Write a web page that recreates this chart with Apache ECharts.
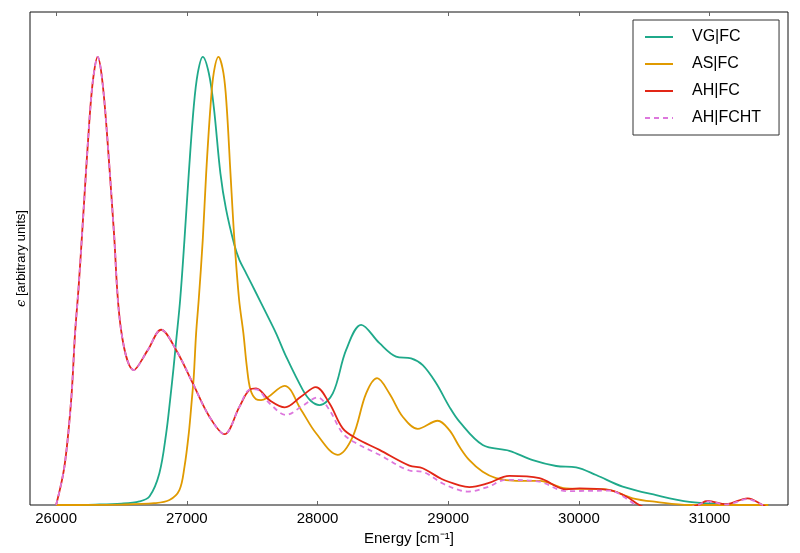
<!DOCTYPE html>
<html>
<head>
<meta charset="utf-8">
<script src="https://cdn.jsdelivr.net/npm/echarts@6/dist/echarts.min.js"></script>
<style>
html,body{margin:0;padding:0;background:#fff;}
#chart{width:800px;height:553px;}
</style>
</head>
<body>
<div id="chart"></div>
<script>
// ---- data ----
const xTicks = [26000, 27000, 28000, 29000, 30000, 31000];
const seriesNames = ['VG|FC', 'AS|FC', 'AH|FC', 'AH|FCHT'];

const vgE = [26000, 26300, 26500, 26637, 26714, 26790, 26842, 26872, 26898, 26918, 26949, 26982, 27015, 27053, 27084, 27122, 27168, 27206, 27257, 27300, 27364, 27402, 27454, 27530, 27607, 27683, 27760, 27887, 27950, 28015, 28117, 28219, 28334, 28474, 28601, 28716, 28805, 28907, 29009, 29086, 29264, 29468, 29647, 29826, 29979, 30132, 30335, 30591, 30846, 31100, 31330, 31450];
const vgV = [0, 0.001, 0.003, 0.008, 0.019, 0.071, 0.16, 0.234, 0.305, 0.365, 0.458, 0.592, 0.74, 0.889, 0.964, 1.0, 0.964, 0.889, 0.74, 0.66, 0.58, 0.547, 0.517, 0.473, 0.428, 0.383, 0.331, 0.257, 0.232, 0.223, 0.249, 0.346, 0.402, 0.361, 0.331, 0.327, 0.312, 0.272, 0.219, 0.186, 0.134, 0.121, 0.10, 0.087, 0.084, 0.067, 0.041, 0.022, 0.007, 0.002, 0, 0];

const asE = [26000, 26500, 26750, 26867, 26943, 26982, 27015, 27038, 27053, 27071, 27091, 27122, 27148, 27181, 27206, 27242, 27280, 27305, 27334, 27364, 27400, 27433, 27459, 27487, 27530, 27568, 27747, 27875, 27989, 28154, 28269, 28372, 28456, 28550, 28652, 28767, 28920, 29009, 29086, 29162, 29264, 29366, 29520, 29698, 29902, 30208, 30412, 30591, 30846, 31100, 31450];
const asV = [0, 0.001, 0.004, 0.011, 0.033, 0.085, 0.16, 0.234, 0.286, 0.383, 0.458, 0.592, 0.74, 0.889, 0.964, 1.0, 0.964, 0.889, 0.74, 0.592, 0.458, 0.383, 0.309, 0.257, 0.236, 0.234, 0.266, 0.212, 0.16, 0.112, 0.152, 0.249, 0.283, 0.249, 0.197, 0.170, 0.188, 0.167, 0.130, 0.10, 0.074, 0.060, 0.054, 0.054, 0.037, 0.035, 0.015, 0.007, 0, 0, 0];

const ahE = [26000, 26063, 26115, 26145, 26173, 26204, 26255, 26285, 26318, 26350, 26387, 26441, 26497, 26594, 26700, 26803, 26918, 27045, 27173, 27288, 27402, 27479, 27530, 27632, 27750, 27875, 27987, 28091, 28193, 28295, 28474, 28703, 28805, 28950, 29086, 29162, 29300, 29468, 29698, 29902, 30005, 30235, 30362, 30463, 30600, 30800, 30909, 30985, 31126, 31291, 31406, 31450];
const ahV = [0, 0.085, 0.234, 0.384, 0.49, 0.63, 0.86, 0.955, 1.0, 0.955, 0.837, 0.614, 0.39, 0.301, 0.345, 0.391, 0.346, 0.272, 0.197, 0.158, 0.219, 0.257, 0.260, 0.234, 0.218, 0.242, 0.263, 0.227, 0.171, 0.149, 0.123, 0.088, 0.082, 0.058, 0.044, 0.040, 0.048, 0.065, 0.060, 0.035, 0.037, 0.033, 0.019, 0.0, -0.015, -0.01, 0.0, 0.009, 0.002, 0.015, 0.0, -0.008];

const ahtE = [26000, 26063, 26115, 26145, 26173, 26204, 26255, 26285, 26318, 26350, 26387, 26441, 26497, 26594, 26700, 26803, 26918, 27045, 27173, 27288, 27402, 27479, 27530, 27632, 27760, 27875, 28002, 28091, 28193, 28295, 28474, 28703, 28805, 28958, 29086, 29149, 29300, 29443, 29698, 29902, 30235, 30400, 30480, 30700, 30909, 30985, 31126, 31291, 31406, 31450];
const ahtV = [0, 0.085, 0.234, 0.384, 0.49, 0.63, 0.86, 0.955, 1.0, 0.955, 0.837, 0.614, 0.39, 0.301, 0.345, 0.391, 0.346, 0.272, 0.197, 0.158, 0.219, 0.257, 0.258, 0.227, 0.201, 0.219, 0.240, 0.212, 0.160, 0.138, 0.112, 0.077, 0.074, 0.048, 0.033, 0.030, 0.040, 0.056, 0.052, 0.031, 0.032, 0.007, -0.01, -0.015, 0.0, 0.008, 0.001, 0.013, 0.0, -0.008];

// ---- chart ----
const pairs = (xs, ys) => xs.map((x, i) => [x, ys[i]]);
const FONT = '"Liberation Sans", Arial, sans-serif';
const colors = ['#1fa98a', '#e09a00', '#e22616', '#dd77dd'];
const solidIcon = 'path://M0,0H28V2H0Z';
const dashIcon = 'path://M0,0H5V2H0Z M9,0H14V2H9Z M18,0H23V2H18Z M27,0H28V2H27Z';

const chart = echarts.init(document.getElementById('chart'), null, {renderer: 'canvas'});

function lineSeries(name, xs, ys, color, dashed, z) {
  return {
    name: name,
    type: 'line',
    data: pairs(xs, ys),
    smooth: 0.35,
    showSymbol: false,
    symbol: 'none',
    clip: true,
    z: z,
    lineStyle: {color: color, width: 1.8, type: dashed ? [5, 4] : 'solid'},
    itemStyle: {color: color},
    emphasis: {disabled: true}
  };
}

chart.setOption({
  animation: false,
  backgroundColor: '#fff',
  color: colors,
  grid: {left: 30, top: 12, right: 12, bottom: 48, show: true, borderColor: '#111', borderWidth: 1, backgroundColor: 'transparent'},
  legend: {
    data: seriesNames.map((n, i) => ({name: n, icon: i === 3 ? dashIcon : solidIcon})),
    orient: 'vertical',
    left: 633,
    top: 20,
    itemWidth: 28,
    itemHeight: 2,
    itemGap: 9,
    padding: [8, 18, 8, 12],
    borderColor: '#333',
    borderWidth: 1,
    backgroundColor: '#fff',
    textStyle: {fontSize: 16, color: '#000', fontFamily: FONT, lineHeight: 18, padding: [0, 0, 0, 14]}
  },
  xAxis: [{
    type: 'value',
    min: 25800,
    max: 31600,
    position: 'bottom',
    axisLine: {show: false},
    splitLine: {show: false},
    axisTick: {show: true, inside: true, length: 4, lineStyle: {color: '#666'}, customValues: xTicks},
    axisLabel: {customValues: xTicks, fontSize: 15, color: '#000', fontFamily: FONT, margin: 6, formatter: v => String(v)},
    name: 'Energy [cm⁻¹]',
    nameLocation: 'middle',
    nameGap: 18,
    nameTextStyle: {fontSize: 15, color: '#000', fontFamily: FONT, verticalAlign: 'top'}
  }, {
    type: 'value',
    min: 25800,
    max: 31600,
    position: 'top',
    axisLine: {show: false},
    splitLine: {show: false},
    axisTick: {show: true, inside: true, length: 4, lineStyle: {color: '#666'}, customValues: xTicks},
    axisLabel: {show: false}
  }],
  yAxis: {
    type: 'value',
    min: 0,
    max: 1.1,
    axisLine: {show: false},
    axisTick: {show: false},
    axisLabel: {show: false},
    splitLine: {show: false},
    name: '{e|ϵ} [arbitrary units]',
    nameLocation: 'middle',
    nameGap: 2,
    nameRotate: 90,
    nameTextStyle: {fontSize: 13, color: '#000', fontFamily: FONT, rich: {e: {fontSize: 13, fontStyle: 'italic', fontFamily: '"DejaVu Serif", serif', color: '#000'}}}
  },
  series: [
    lineSeries(seriesNames[0], vgE, vgV, colors[0], false, 2),
    lineSeries(seriesNames[1], asE, asV, colors[1], false, 3),
    lineSeries(seriesNames[2], ahE, ahV, colors[2], false, 4),
    lineSeries(seriesNames[3], ahtE, ahtV, colors[3], true, 5)
  ]
});
</script>
</body>
</html>
